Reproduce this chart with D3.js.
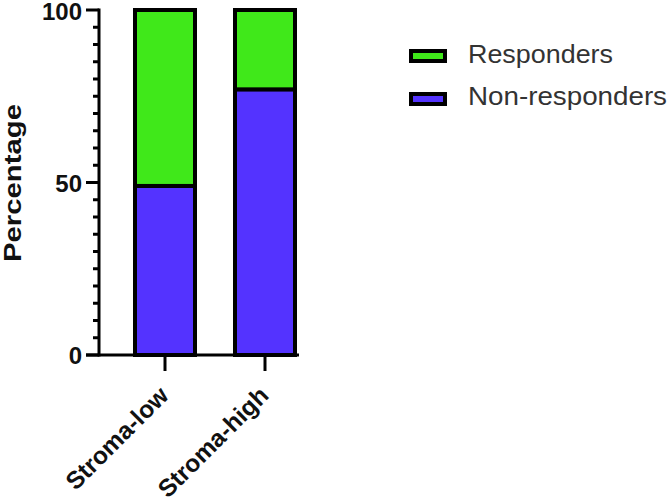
<!DOCTYPE html>
<html><head><meta charset="utf-8">
<script src="https://cdn.jsdelivr.net/npm/d3@7"></script>
<style>body{margin:0;background:#fff}svg{display:block}</style>
</head><body>
<svg id="c" width="670" height="501"></svg>
<script>
const categories = ["Stroma-low", "Stroma-high"];
const nonResponders = [49, 77];
const responders = [51, 23];
const seriesNames = ["Responders", "Non-responders"];
const seriesColors = ["#40E81A", "#5433FF"];
const yTicks = [0, 50, 100];

const svg = d3.select("#c");
const font = "'Liberation Sans', Arial, sans-serif";
const y = d3.scaleLinear().domain([0, 100]).range([355, 10]);
const x = d3.scaleBand().domain(categories).range([115, 315]).paddingInner(0.4).paddingOuter(0.2);

const stacked = categories.map((c, i) => ({c, parts: [
  {k: 1, y0: 0, y1: nonResponders[i]},
  {k: 0, y0: nonResponders[i], y1: nonResponders[i] + responders[i]}
]}));

const g = svg.append("g");
stacked.forEach(d => {
  d.parts.forEach(p => {
    g.append("rect")
      .attr("x", x(d.c)).attr("width", x.bandwidth())
      .attr("y", y(p.y1)).attr("height", y(p.y0) - y(p.y1))
      .attr("fill", seriesColors[p.k]).attr("stroke", "#000").attr("stroke-width", 4);
  });
});

// Y axis
const yAxis = svg.append("g").attr("transform", "translate(99,0)");
yAxis.append("line").attr("x1", 0).attr("x2", 0).attr("y1", y(100) - 1.5).attr("y2", y(0) + 1.5)
  .attr("stroke", "#000").attr("stroke-width", 3);
d3.range(0, 101, 5).forEach(v => {
  const major = yTicks.includes(v);
  yAxis.append("line").attr("x1", major ? -13 : -6).attr("x2", 0)
    .attr("y1", y(v)).attr("y2", y(v)).attr("stroke", "#000").attr("stroke-width", 3);
});
yTicks.forEach(v => {
  yAxis.append("text").attr("x", -17).attr("y", y(v) + (v === 100 ? 1.5 : 0.5)).attr("dy", "0.36em")
    .attr("text-anchor", "end").attr("font-family", font).attr("font-weight", "bold")
    .attr("font-size", 24).attr("fill", "#111").text(v);
});
svg.append("text").attr("transform", "translate(21,183) rotate(-90)")
  .attr("text-anchor", "middle").attr("font-family", font).attr("font-weight", "bold")
  .attr("font-size", 24).attr("fill", "#111")
  .attr("textLength", 158).attr("lengthAdjust", "spacingAndGlyphs").text("Percentage");

// X axis
const xAxis = svg.append("g").attr("transform", `translate(0,${y(0)})`);
xAxis.append("line").attr("x1", 86).attr("x2", 299).attr("y1", 0).attr("y2", 0)
  .attr("stroke", "#000").attr("stroke-width", 3);
categories.forEach(c => {
  const cx = x(c) + x.bandwidth() / 2;
  xAxis.append("line").attr("x1", cx).attr("x2", cx).attr("y1", 0).attr("y2", 16)
    .attr("stroke", "#000").attr("stroke-width", 3);
  xAxis.append("text").attr("transform", `translate(${cx + 5},${42}) rotate(-45)`)
    .attr("text-anchor", "end").attr("font-family", font).attr("font-weight", "bold")
    .attr("font-size", 24.5).attr("fill", "#111").text(c);
});

// Legend
const leg = svg.append("g");
const legLens = [145, 199];
seriesNames.forEach((n, i) => {
  const base = 63 + i * 42;
  leg.append("rect").attr("x", 411).attr("y", base - 12 + i * 1).attr("width", 34).attr("height", 10)
    .attr("fill", seriesColors[i]).attr("stroke", "#000").attr("stroke-width", 4);
  leg.append("text").attr("x", 468).attr("y", base)
    .attr("font-family", font).attr("font-size", 25).attr("fill", "#333")
    .attr("textLength", legLens[i]).attr("lengthAdjust", "spacingAndGlyphs").text(n);
});
</script>
</body></html>
